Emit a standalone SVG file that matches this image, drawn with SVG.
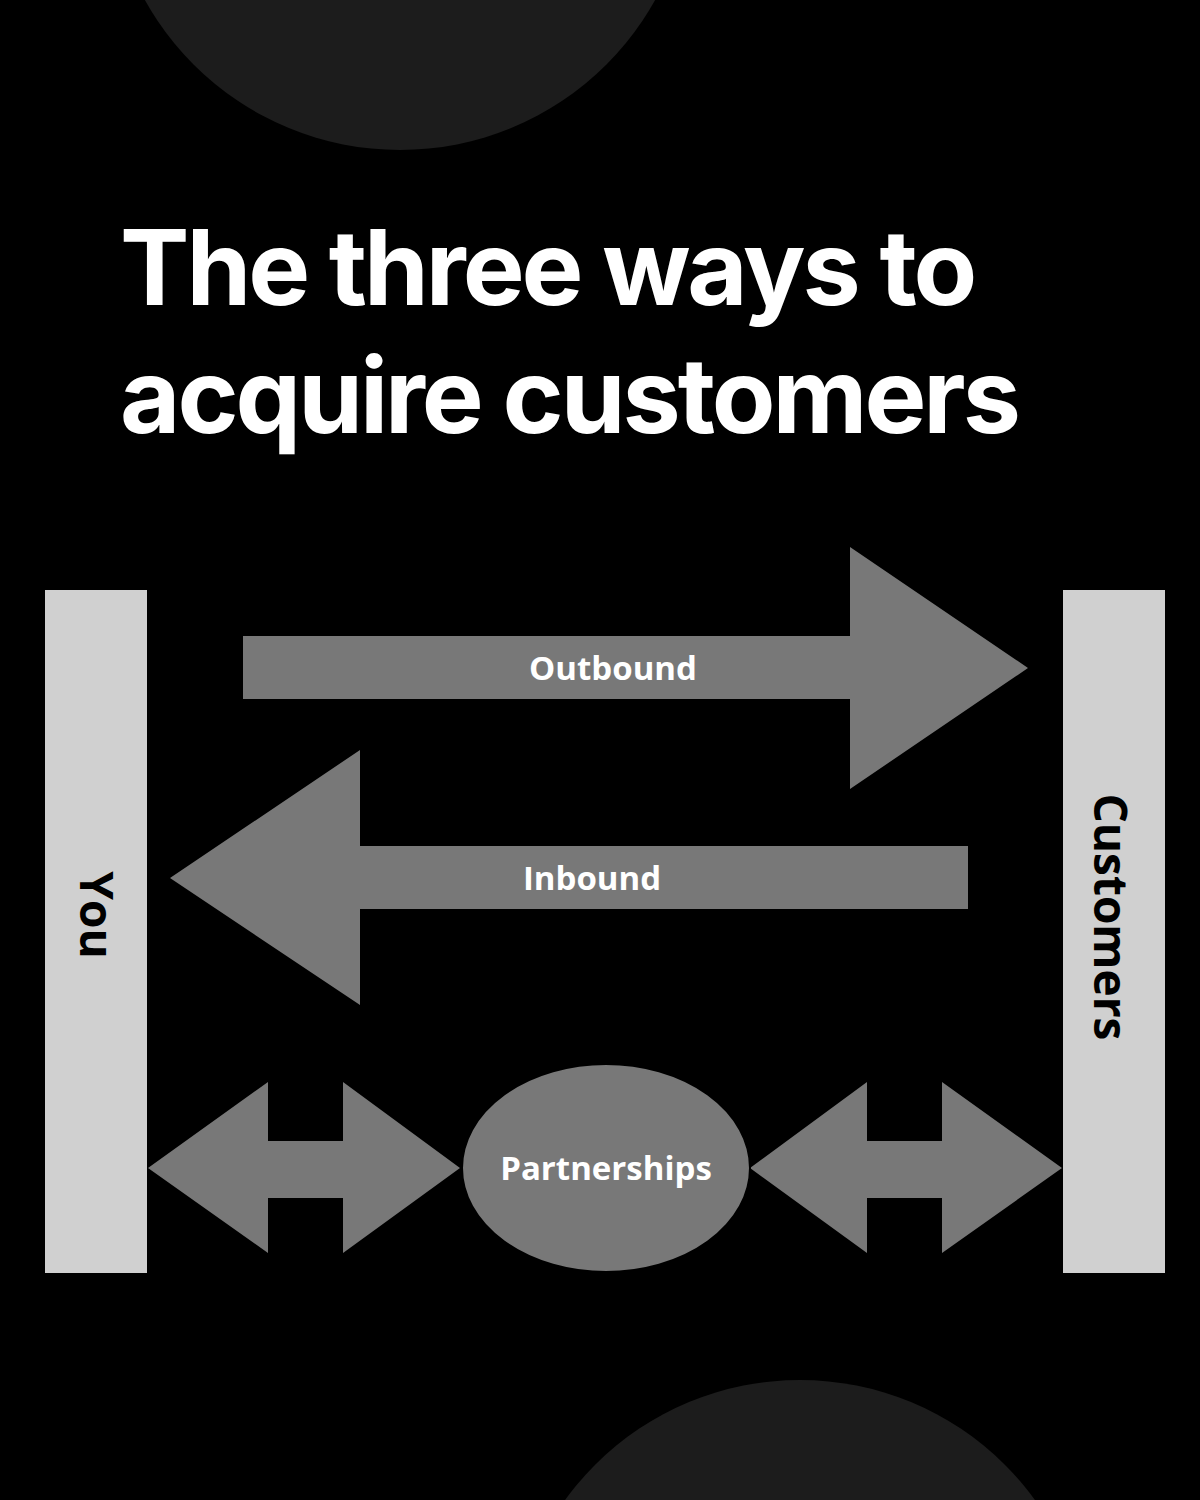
<svg xmlns="http://www.w3.org/2000/svg" width="1200" height="1500" viewBox="0 0 1200 1500">
<style>
.bar{fill:#d0d0d0}
.arr{fill:#787878}
.lbl{font-family:"Open Sans",sans-serif;font-weight:700;font-size:33px;fill:#fff;text-anchor:middle}
.side{font-family:"Open Sans",sans-serif;font-weight:700;font-size:46px;fill:#000;text-anchor:middle}
.title{font-family:Inter,"Liberation Sans",sans-serif;font-weight:700;font-size:104px;fill:#fff;letter-spacing:-3px}
</style>
<rect width="1200" height="1500" fill="#000"/>
<circle cx="400" cy="-142" r="292" fill="#1c1c1c"/>
<circle cx="800" cy="1670" r="290" fill="#1c1c1c"/>
<text class="title" x="120" y="305">The three ways to</text>
<text class="title" x="120" y="433">acquire customers</text>
<g id="you"><rect class="bar" x="45" y="590" width="102" height="683"/>
<text class="side" transform="translate(80,915) rotate(90)">You</text></g>
<g id="customers"><rect class="bar" x="1063" y="590" width="102" height="683"/>
<text class="side" transform="translate(1094,917) rotate(90)">Customers</text></g>
<g id="connectors">
<g id="outbound"><polygon class="arr" points="243,636 850,636 850,547 1028,668 850,789 850,699 243,699"/>
<text class="lbl" x="613" y="680">Outbound</text></g>
<g id="inbound"><polygon class="arr" points="968,846 360,846 360,750 170,878 360,1005 360,909 968,909"/>
<text class="lbl" x="592" y="890">Inbound</text></g>
<polygon class="arr" points="148,1168 268,1082 268,1141 343,1141 343,1082 460,1168 343,1253 343,1198 268,1198 268,1253"/>
<polygon class="arr" points="750,1168 867,1082 867,1141 942,1141 942,1082 1062,1168 942,1253 942,1198 867,1198 867,1253"/>
</g>
<g id="partnerships"><ellipse cx="606" cy="1168" rx="144" ry="104" fill="#787878" stroke="#000" stroke-width="2"/>
<text class="lbl" x="606" y="1180">Partnerships</text></g>
</svg>
